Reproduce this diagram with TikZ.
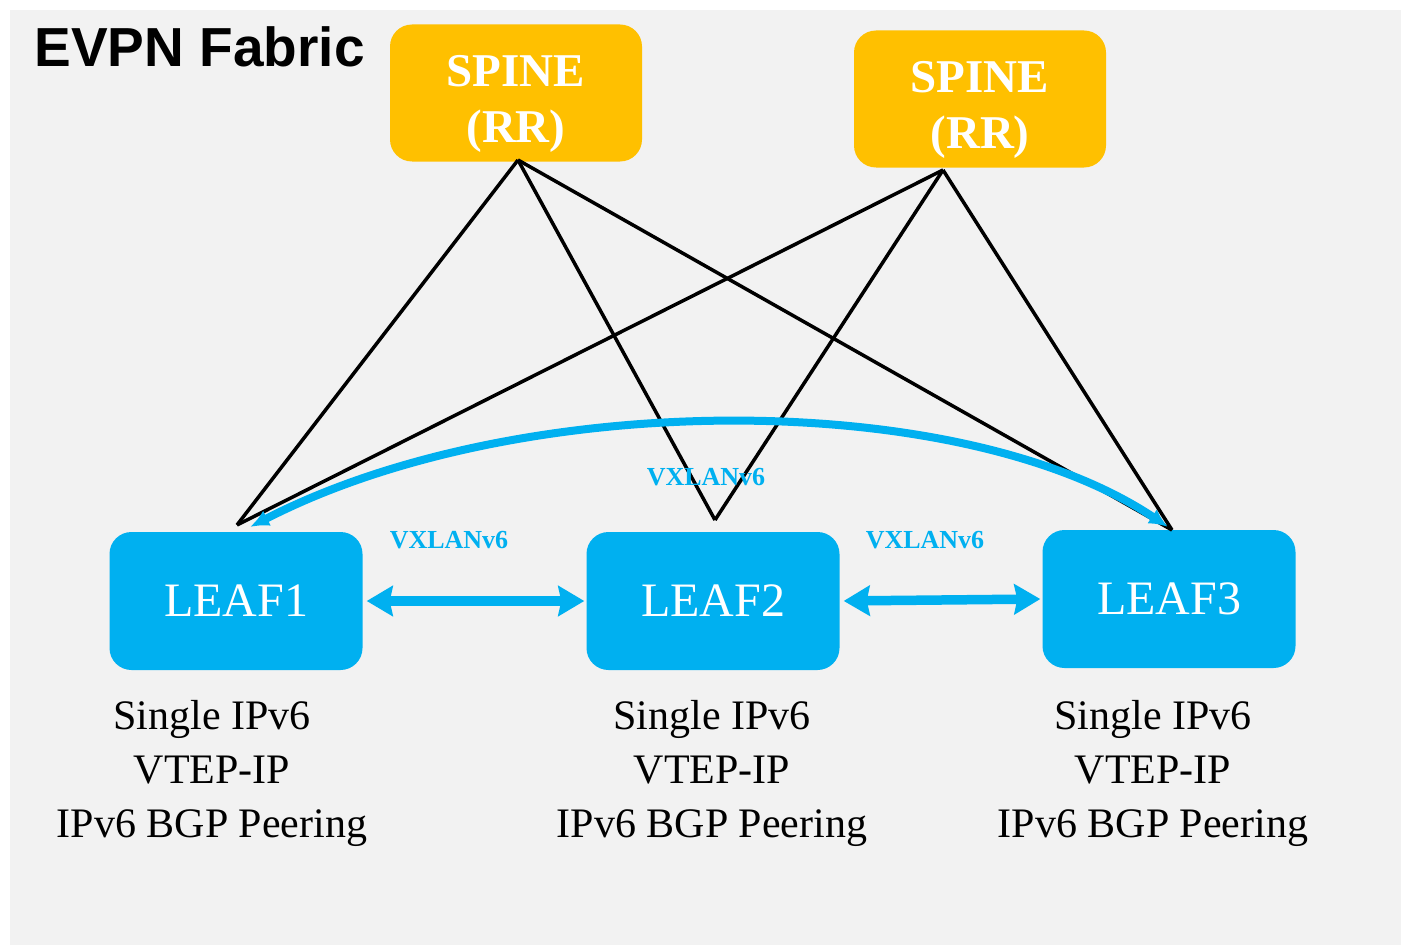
\documentclass[tikz,border=0pt]{standalone}
\usepackage{fontspec}
\setmainfont{Liberation Serif}
\newfontfamily\titlefont{Liberation Sans}
\usetikzlibrary{arrows.meta}
\definecolor{bggray}{HTML}{F2F2F2}
\definecolor{spineorange}{HTML}{FFC000}
\definecolor{leafblue}{HTML}{00B0F0}
\newcommand{\spinelift}{\rule{0pt}{54pt}}
\tikzset{
  vxarrow/.style = {leafblue, line width=9.5pt, shorten <=4pt, shorten >=2pt,
    {Stealth[length=26pt,width=30pt,inset=3pt]}-{Stealth[length=26pt,width=30pt,inset=3pt]}},
  vxlabel/.style = {text=leafblue, font=\bfseries\fontsize{26}{30}\selectfont},
  desc/.style = {align=center, font=\fontsize{42}{54}\selectfont}
}
\begin{document}
\begin{tikzpicture}[x=1pt, y=-1pt]
\useasboundingbox (0,0) rectangle (1405,947);
\fill[bggray] (10,10) rectangle (1401,945);
\node[anchor=west, font=\titlefont\bfseries\fontsize{55}{60}\selectfont] (title) at (31,47) {EVPN Fabric};
\begin{scope}[every node/.style = {rounded corners=22pt, fill=spineorange, text=white, align=center,
    minimum width=252pt, minimum height=137pt, font=\bfseries\fontsize{47}{56}\selectfont}]
\node (s1) at (516,93) {\spinelift SPINE\\(RR)};
\node (s2) at (980,99) {\spinelift SPINE\\(RR)};
\end{scope}
\begin{scope}[every node/.style = {rounded corners=22pt, fill=leafblue, text=white,
    minimum width=253pt, minimum height=138pt, font=\fontsize{48}{56}\selectfont}]
\node (l1) at (236,601) {LEAF1};
\node (l2) at (713,601) {LEAF2};
\node (l3) at (1169,599) {LEAF3};
\end{scope}
\coordinate (s1b) at (518,160);
\coordinate (s2b) at (943,170);
\coordinate (l1t) at (237,525);
\coordinate (l2t) at (715,520);
\coordinate (l3t) at (1172,530);
\coordinate (c1) at (250,527);
\coordinate (c3) at (1168,527);
\begin{scope}[every edge/.style = {draw, line width=3.5pt}]
\path (s1b) edge (l1t);
\path (s1b) edge (l2t);
\path (s1b) edge (l3t);
\path (s2b) edge (l1t);
\path (s2b) edge (l2t);
\path (s2b) edge (l3t);
\end{scope}
\draw[leafblue, line width=8pt, {Latex[length=19pt,width=17pt]}-{Latex[length=19pt,width=17pt]}]
  (c1) .. controls (520,388) and (960,388) .. (c3);
\draw[vxarrow] (l1.east) -- (l2.west);
\draw[vxarrow] (l2.east) -- (l3.west);
\node[vxlabel] (vx12) at (449,540) {VXLANv6};
\node[vxlabel] (vx13) at (706,477) {VXLANv6};
\node[vxlabel] (vx23) at (925,540) {VXLANv6};
\node[desc] (d1) at (212,773) {Single IPv6\\VTEP-IP\\IPv6 BGP Peering};
\node[desc] (d2) at (712,773) {Single IPv6\\VTEP-IP\\IPv6 BGP Peering};
\node[desc] (d3) at (1153,773) {Single IPv6\\VTEP-IP\\IPv6 BGP Peering};
\end{tikzpicture}
\end{document}
